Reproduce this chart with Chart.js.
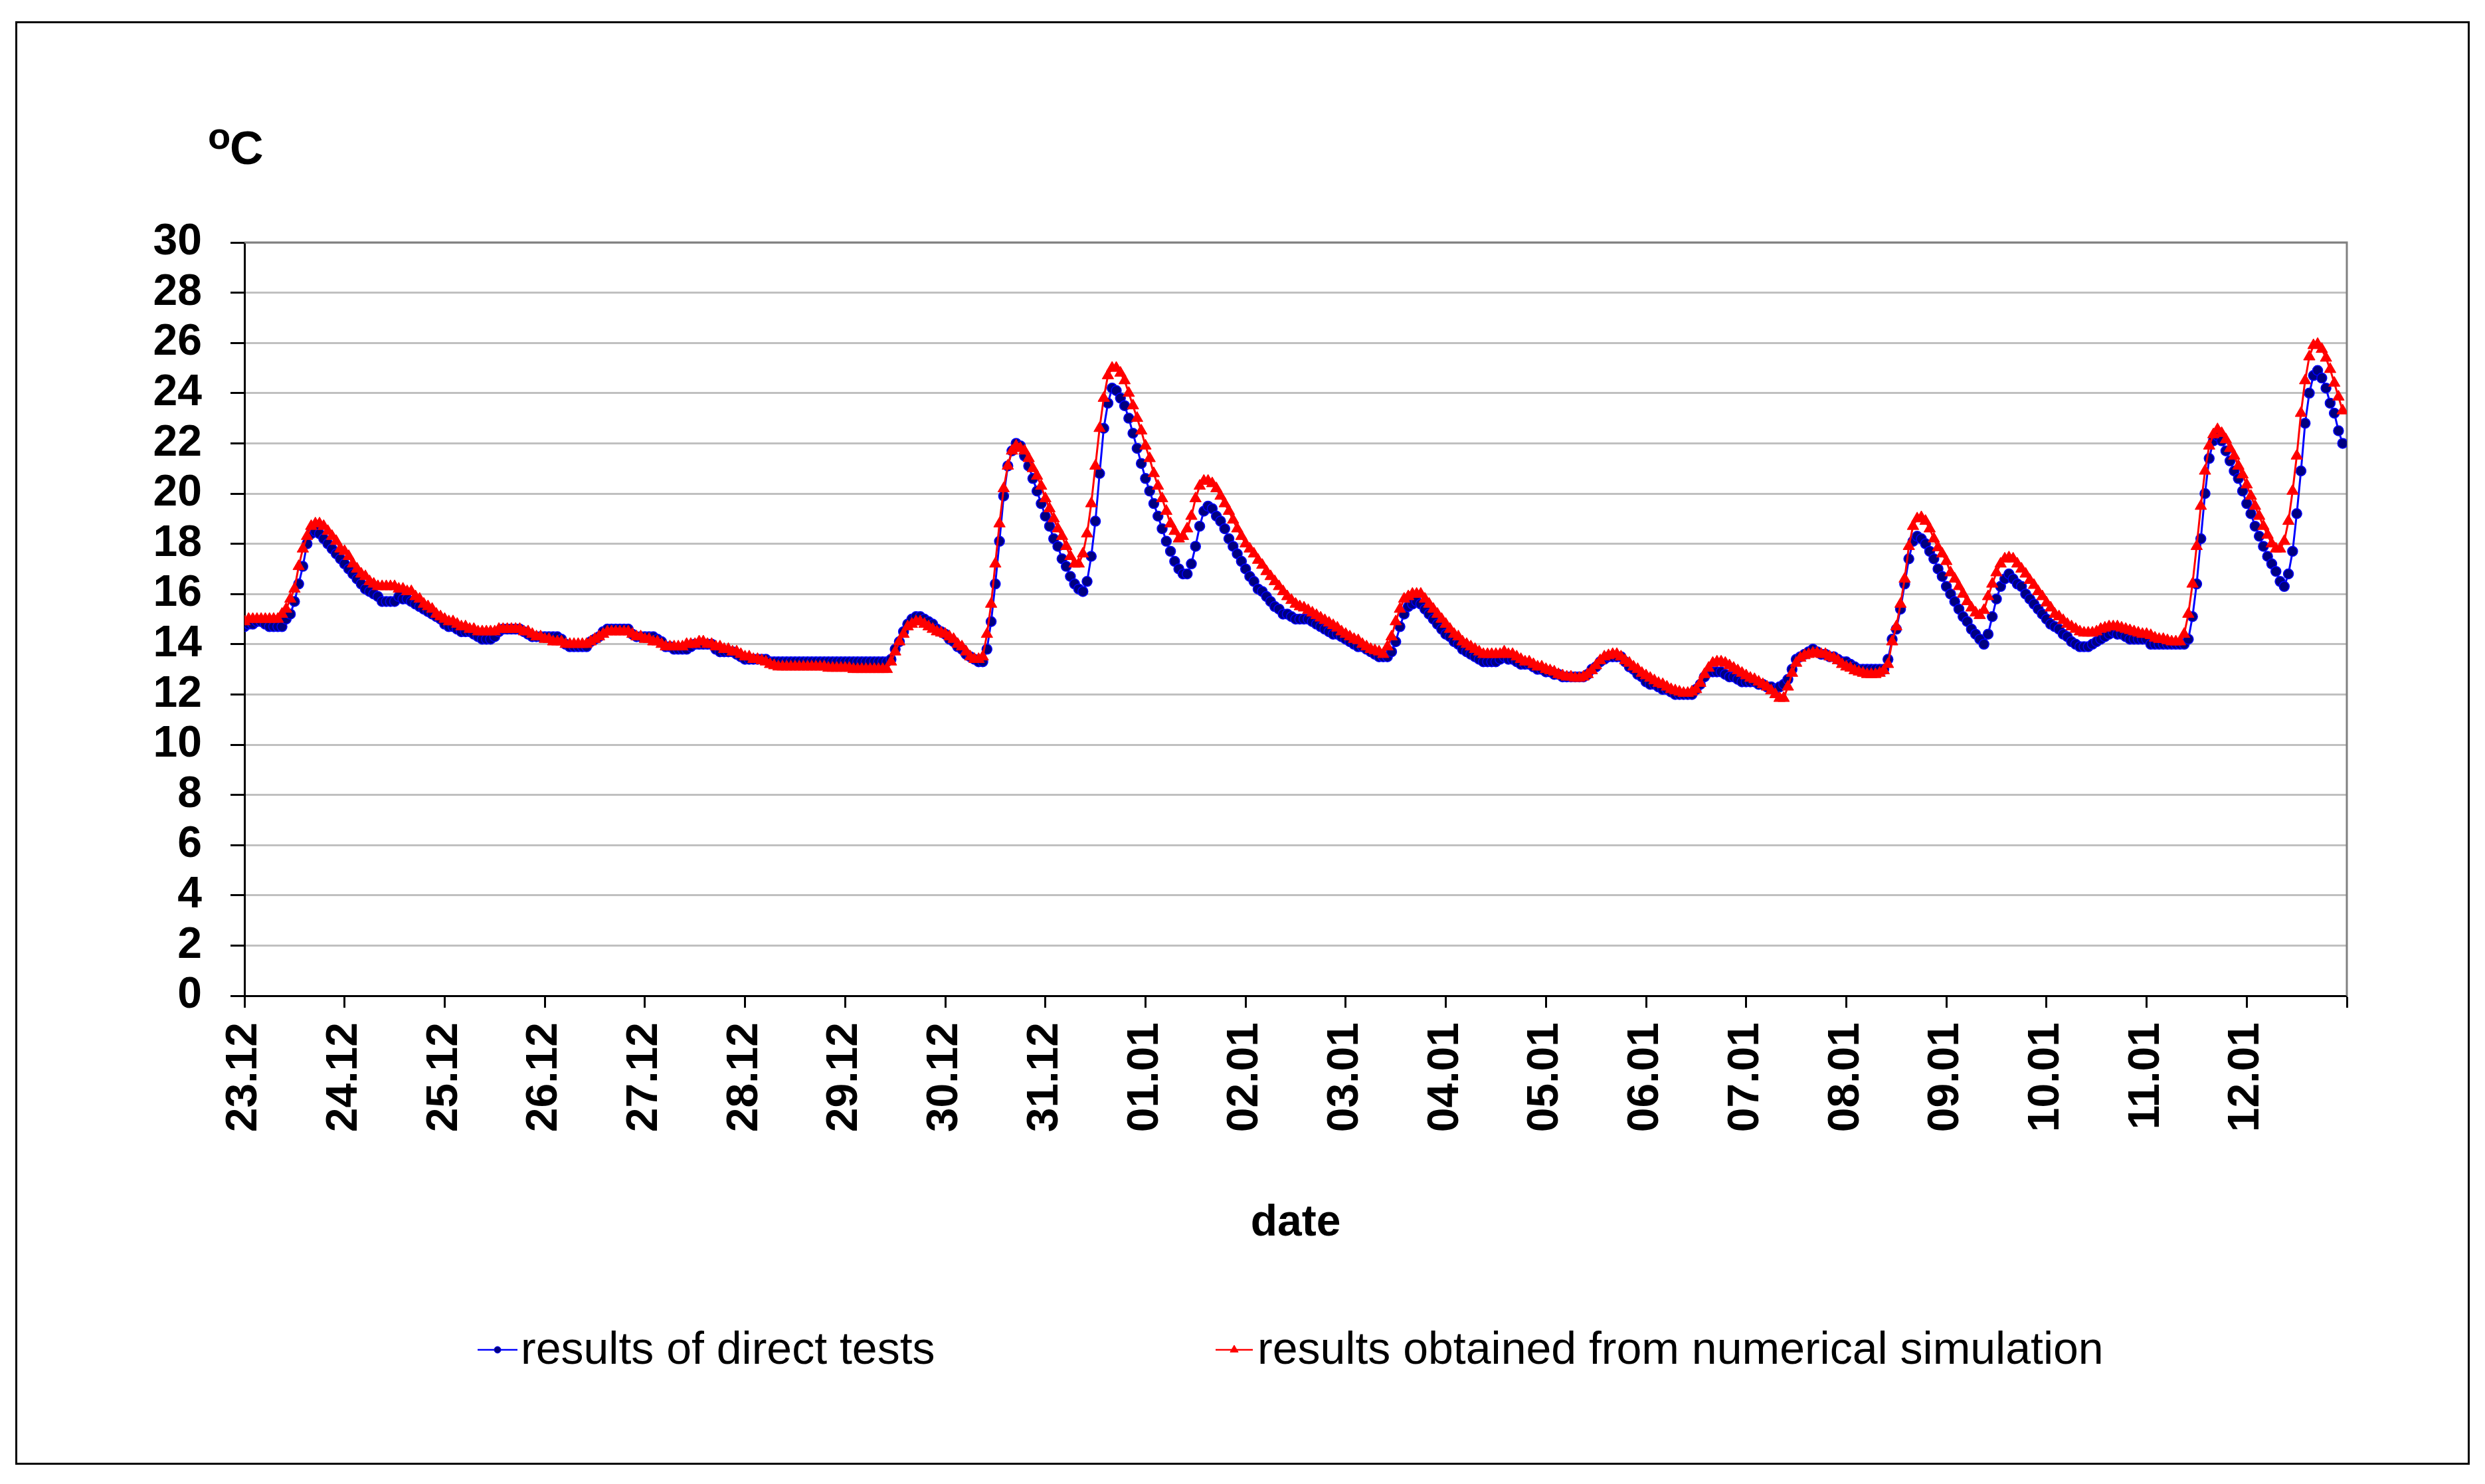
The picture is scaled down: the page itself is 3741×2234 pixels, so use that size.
<!DOCTYPE html>
<html>
<head>
<meta charset="utf-8">
<title>Temperature: direct tests vs numerical simulation</title>
<script src="https://cdn.jsdelivr.net/npm/chart.js@4.4.1/dist/chart.umd.min.js"></script>
<style>
    html, body { margin: 0; padding: 0; background: #fff; }
    canvas { display: block; }
</style>
</head>
<body>
<canvas id="tempChart" width="3741" height="2234"></canvas>
<script>
// Day labels on the x axis (one tick every 24 hourly readings)
const dateLabels = ['23.12', '24.12', '25.12', '26.12', '27.12', '28.12', '29.12', '30.12', '31.12',
    '01.01', '02.01', '03.01', '04.01', '05.01', '06.01', '07.01', '08.01', '09.01', '10.01', '11.01', '12.01'];

const seriesNames = ['results of direct tests', 'results obtained from numerical simulation'];

// Hourly readings, one row per day (°C)
const directTests = [
    14.7, 14.8, 14.8, 14.9, 14.9, 14.8, 14.7, 14.7, 14.7, 14.7, 15.0, 15.2, 15.7, 16.4, 17.1, 18.0, 18.4, 18.5, 18.4, 18.2, 18.0, 17.8, 17.6, 17.4,
    17.2, 17.0, 16.8, 16.6, 16.4, 16.2, 16.1, 16.0, 15.9, 15.7, 15.7, 15.7, 15.7, 15.9, 15.8, 15.8, 15.7, 15.6, 15.5, 15.4, 15.3, 15.2, 15.1, 15.0,
    14.8, 14.7, 14.7, 14.6, 14.5, 14.5, 14.5, 14.4, 14.3, 14.2, 14.2, 14.2, 14.3, 14.5, 14.6, 14.6, 14.6, 14.6, 14.6, 14.5, 14.4, 14.3, 14.3, 14.3,
    14.3, 14.3, 14.3, 14.3, 14.2, 14.0, 13.9, 13.9, 13.9, 13.9, 13.9, 14.1, 14.2, 14.3, 14.5, 14.6, 14.6, 14.6, 14.6, 14.6, 14.6, 14.4, 14.3, 14.3,
    14.3, 14.3, 14.3, 14.2, 14.1, 13.9, 13.9, 13.8, 13.8, 13.8, 13.8, 13.9, 14.0, 14.0, 14.0, 14.0, 14.0, 13.8, 13.7, 13.7, 13.7, 13.7, 13.6, 13.5,
    13.4, 13.4, 13.4, 13.4, 13.4, 13.4, 13.3, 13.3, 13.3, 13.3, 13.3, 13.3, 13.3, 13.3, 13.3, 13.3, 13.3, 13.3, 13.3, 13.3, 13.3, 13.3, 13.3, 13.3,
    13.3, 13.3, 13.3, 13.3, 13.3, 13.3, 13.3, 13.3, 13.3, 13.3, 13.3, 13.4, 13.8, 14.1, 14.5, 14.8, 15.0, 15.1, 15.1, 15.0, 14.9, 14.8, 14.6, 14.5,
    14.4, 14.2, 14.1, 13.9, 13.8, 13.6, 13.5, 13.4, 13.3, 13.3, 13.8, 14.9, 16.4, 18.1, 19.9, 21.1, 21.7, 22.0, 21.9, 21.5, 21.1, 20.6, 20.1, 19.6,
    19.1, 18.7, 18.2, 17.9, 17.4, 17.1, 16.7, 16.4, 16.2, 16.1, 16.5, 17.5, 18.9, 20.8, 22.6, 23.6, 24.2, 24.1, 23.8, 23.5, 23.0, 22.4, 21.8, 21.2,
    20.6, 20.1, 19.6, 19.1, 18.6, 18.1, 17.7, 17.3, 17.0, 16.8, 16.8, 17.2, 17.9, 18.7, 19.3, 19.5, 19.4, 19.1, 18.9, 18.6, 18.2, 17.9, 17.6, 17.3,
    17.0, 16.7, 16.5, 16.2, 16.1, 15.9, 15.7, 15.5, 15.4, 15.2, 15.2, 15.1, 15.0, 15.0, 15.0, 15.0, 14.9, 14.8, 14.7, 14.6, 14.5, 14.4, 14.4, 14.3,
    14.2, 14.1, 14.0, 13.9, 13.9, 13.8, 13.7, 13.6, 13.5, 13.5, 13.5, 13.7, 14.1, 14.7, 15.2, 15.5, 15.6, 15.7, 15.6, 15.4, 15.2, 15.0, 14.8, 14.6,
    14.4, 14.3, 14.1, 14.0, 13.8, 13.7, 13.6, 13.5, 13.4, 13.3, 13.3, 13.3, 13.3, 13.4, 13.5, 13.4, 13.4, 13.3, 13.2, 13.2, 13.2, 13.1, 13.0, 13.0,
    12.9, 12.9, 12.8, 12.8, 12.7, 12.7, 12.7, 12.7, 12.7, 12.7, 12.8, 13.0, 13.1, 13.3, 13.4, 13.5, 13.5, 13.5, 13.5, 13.3, 13.1, 13.0, 12.8, 12.7,
    12.5, 12.4, 12.4, 12.3, 12.2, 12.2, 12.1, 12.0, 12.0, 12.0, 12.0, 12.0, 12.2, 12.4, 12.7, 12.9, 12.9, 12.9, 12.9, 12.8, 12.7, 12.7, 12.6, 12.5,
    12.5, 12.5, 12.5, 12.4, 12.4, 12.3, 12.3, 12.2, 12.3, 12.4, 12.6, 13.0, 13.4, 13.5, 13.6, 13.7, 13.8, 13.7, 13.6, 13.6, 13.5, 13.5, 13.4, 13.3,
    13.3, 13.2, 13.1, 13.0, 13.0, 13.0, 13.0, 13.0, 13.0, 13.0, 13.4, 14.2, 14.6, 15.4, 16.4, 17.4, 18.1, 18.3, 18.2, 18.0, 17.7, 17.4, 17.0, 16.7,
    16.3, 16.0, 15.7, 15.4, 15.1, 14.9, 14.6, 14.4, 14.2, 14.0, 14.4, 15.1, 15.8, 16.3, 16.6, 16.8, 16.6, 16.4, 16.3, 16.0, 15.8, 15.6, 15.4, 15.2,
    15.0, 14.8, 14.7, 14.6, 14.4, 14.3, 14.1, 14.0, 13.9, 13.9, 13.9, 14.0, 14.1, 14.2, 14.3, 14.4, 14.5, 14.4, 14.4, 14.3, 14.2, 14.2, 14.2, 14.2,
    14.2, 14.0, 14.0, 14.0, 14.0, 14.0, 14.0, 14.0, 14.0, 14.0, 14.2, 15.1, 16.4, 18.2, 20.0, 21.4, 22.1, 22.3, 22.1, 21.7, 21.3, 20.9, 20.6, 20.1,
    19.6, 19.2, 18.7, 18.3, 17.9, 17.5, 17.2, 16.9, 16.5, 16.3, 16.8, 17.7, 19.2, 20.9, 22.8, 24.0, 24.7, 24.9, 24.6, 24.2, 23.6, 23.2, 22.5, 22.0
];

const simulation = [
    14.9, 15.0, 15.0, 15.0, 15.0, 15.0, 15.0, 15.0, 15.0, 15.2, 15.4, 15.8, 16.2, 17.1, 17.8, 18.3, 18.7, 18.8, 18.8, 18.7, 18.5, 18.3, 18.1, 17.8,
    17.7, 17.5, 17.2, 17.0, 16.8, 16.7, 16.5, 16.4, 16.3, 16.3, 16.3, 16.3, 16.3, 16.2, 16.2, 16.1, 16.1, 15.9, 15.8, 15.6, 15.5, 15.4, 15.2, 15.1,
    15.0, 14.9, 14.9, 14.8, 14.7, 14.7, 14.6, 14.6, 14.5, 14.5, 14.5, 14.5, 14.5, 14.6, 14.6, 14.6, 14.6, 14.6, 14.6, 14.5, 14.5, 14.4, 14.3, 14.3,
    14.2, 14.2, 14.1, 14.1, 14.1, 14.0, 14.0, 14.0, 14.0, 14.0, 14.0, 14.1, 14.2, 14.3, 14.4, 14.5, 14.5, 14.5, 14.5, 14.5, 14.5, 14.4, 14.3, 14.3,
    14.2, 14.2, 14.1, 14.1, 14.0, 13.9, 13.9, 13.9, 13.9, 13.9, 14.0, 14.0, 14.0, 14.1, 14.1, 14.0, 14.0, 13.9, 13.9, 13.8, 13.8, 13.7, 13.7, 13.6,
    13.5, 13.5, 13.4, 13.4, 13.35, 13.3, 13.2, 13.15, 13.1, 13.1, 13.1, 13.1, 13.1, 13.1, 13.1, 13.1, 13.1, 13.1, 13.1, 13.1, 13.05, 13.05, 13.05, 13.05,
    13.05, 13.05, 13.0, 13.0, 13.0, 13.0, 13.0, 13.0, 13.0, 13.0, 13.0, 13.3, 13.7, 14.1, 14.4, 14.7, 14.8, 14.9, 14.9, 14.8, 14.7, 14.6, 14.5, 14.45,
    14.4, 14.3, 14.2, 14.0, 13.9, 13.7, 13.5, 13.4, 13.4, 13.5, 14.4, 15.6, 17.2, 18.8, 20.2, 21.1, 21.7, 21.9, 21.8, 21.7, 21.4, 21.0, 20.7, 20.3,
    19.8, 19.4, 19.0, 18.6, 18.3, 17.9, 17.5, 17.2, 17.2, 17.6, 18.4, 19.6, 21.1, 22.6, 23.8, 24.7, 25.0, 25.0, 24.8, 24.5, 24.0, 23.5, 23.0, 22.5,
    21.9, 21.4, 20.8, 20.3, 19.8, 19.3, 18.8, 18.5, 18.2, 18.3, 18.6, 19.1, 19.8, 20.3, 20.5, 20.5, 20.4, 20.2, 19.9, 19.6, 19.3, 18.95, 18.6, 18.3,
    18.0, 17.8, 17.6, 17.35, 17.15, 16.9, 16.7, 16.5, 16.3, 16.1, 15.9, 15.75, 15.6, 15.5, 15.45, 15.35, 15.25, 15.15, 15.05, 14.95, 14.85, 14.75, 14.65, 14.5,
    14.4, 14.3, 14.2, 14.15, 14.0, 13.9, 13.8, 13.75, 13.7, 13.6, 13.9, 14.3, 14.9, 15.4, 15.8, 15.9, 16.0, 16.0, 16.0, 15.8, 15.6, 15.4, 15.2, 15.0,
    14.8, 14.6, 14.4, 14.3, 14.1, 14.0, 13.9, 13.8, 13.7, 13.6, 13.6, 13.6, 13.6, 13.6, 13.7, 13.6, 13.6, 13.5, 13.4, 13.3, 13.3, 13.2, 13.1, 13.1,
    13.0, 12.95, 12.9, 12.8, 12.75, 12.7, 12.7, 12.65, 12.65, 12.7, 12.8, 12.95, 13.15, 13.35, 13.5, 13.55, 13.6, 13.6, 13.5, 13.35, 13.25, 13.1, 13.0, 12.85,
    12.75, 12.65, 12.55, 12.45, 12.4, 12.3, 12.2, 12.15, 12.1, 12.05, 12.05, 12.1, 12.2, 12.45, 12.8, 13.05, 13.25, 13.3, 13.3, 13.25, 13.15, 13.05, 12.95, 12.85,
    12.75, 12.65, 12.6, 12.5, 12.4, 12.3, 12.15, 12.0, 11.85, 11.85, 12.3, 12.85, 13.25, 13.45, 13.55, 13.6, 13.65, 13.65, 13.6, 13.6, 13.5, 13.45, 13.35, 13.2,
    13.1, 13.05, 12.95, 12.9, 12.85, 12.8, 12.8, 12.8, 12.85, 12.95, 13.2, 14.1, 14.7, 15.6, 16.6, 17.9, 18.7, 19.0, 19.05, 18.9, 18.6, 18.2, 17.85, 17.6,
    17.3, 16.85, 16.6, 16.3, 16.0, 15.7, 15.45, 15.25, 15.15, 15.35, 15.9, 16.4, 16.85, 17.2, 17.4, 17.45, 17.4, 17.2, 17.0, 16.8, 16.55, 16.35, 16.1, 15.9,
    15.65, 15.45, 15.2, 15.1, 14.95, 14.8, 14.7, 14.6, 14.5, 14.45, 14.45, 14.45, 14.5, 14.6, 14.65, 14.7, 14.7, 14.7, 14.65, 14.6, 14.55, 14.5, 14.45, 14.4,
    14.4, 14.35, 14.25, 14.2, 14.2, 14.15, 14.1, 14.1, 14.1, 14.4, 15.2, 16.4, 17.9, 19.5, 20.9, 21.9, 22.35, 22.55, 22.4, 22.15, 21.8, 21.5, 21.1, 20.75,
    20.35, 19.9, 19.5, 19.1, 18.7, 18.35, 18.0, 17.8, 17.8, 18.1, 18.9, 20.1, 21.5, 23.2, 24.5, 25.45, 25.9, 25.95, 25.75, 25.4, 24.95, 24.4, 23.85, 23.3
];

const colors = {
    blue: '#0000ff',
    navy: '#000080',
    red: '#ff0000',
    grid: '#c0c0c0',
    frame: '#808080'
};
const fontFamily = "'Liberation Sans', Arial, sans-serif";

Chart.defaults.font.family = fontFamily;
Chart.defaults.color = '#000';

// x = hour since 23.12 00:00
const toPoints = values => values.map((v, i) => ({ x: i, y: v }));

// small marker drawer for the legend
function drawMarker(ctx, style, x, y, r) {
    ctx.beginPath();
    if (style === 'triangle') {
        ctx.moveTo(x, y - r);
        ctx.lineTo(x + r * 0.866, y + r * 0.5);
        ctx.lineTo(x - r * 0.866, y + r * 0.5);
        ctx.closePath();
    } else {
        ctx.arc(x, y, r, 0, Math.PI * 2);
    }
    ctx.fill();
    ctx.stroke();
}

// outer frame, grey plot border, unit label and the legend
const decorations = {
    id: 'decorations',
    beforeDraw(chart) {
        const ctx = chart.ctx;
        ctx.save();
        ctx.fillStyle = '#fff';
        ctx.fillRect(0, 0, chart.width, chart.height);
        ctx.strokeStyle = '#000';
        ctx.lineWidth = 3;
        ctx.strokeRect(24.5, 33.5, 3692, 2170);
        ctx.restore();
    },
    beforeDatasetsDraw(chart) {
        const { ctx, chartArea: a } = chart;
        ctx.save();
        ctx.strokeStyle = colors.frame;
        ctx.lineWidth = 3;
        ctx.beginPath();
        ctx.moveTo(a.left, a.top);
        ctx.lineTo(a.right, a.top);
        ctx.lineTo(a.right, a.bottom);
        ctx.stroke();
        ctx.restore();
    },
    afterDraw(chart) {
        const ctx = chart.ctx;
        ctx.save();
        ctx.fillStyle = '#000';
        ctx.textBaseline = 'alphabetic';
        ctx.font = 'bold 56px ' + fontFamily;
        ctx.fillText('o', 313, 224);
        ctx.font = 'bold 70px ' + fontFamily;
        ctx.fillText('C', 346, 247);

        // legend: short line with marker, then the name
        const legendY = 2032;
        const items = [
            { lineFrom: 719, lineTo: 779, textX: 784 },
            { lineFrom: 1830, lineTo: 1886, textX: 1893 }
        ];
        chart.data.datasets.forEach((ds, i) => {
            const it = items[i];
            ctx.strokeStyle = ds.borderColor;
            ctx.lineWidth = 2.5;
            ctx.beginPath();
            ctx.moveTo(it.lineFrom, legendY);
            ctx.lineTo(it.lineTo, legendY);
            ctx.stroke();
            ctx.fillStyle = ds.pointBackgroundColor;
            ctx.strokeStyle = ds.pointBorderColor;
            ctx.lineWidth = 1;
            drawMarker(ctx, ds.pointStyle, (it.lineFrom + it.lineTo) / 2, legendY, ds.pointStyle === 'triangle' ? 7 : 5);
            ctx.fillStyle = '#000';
            ctx.font = '68px ' + fontFamily;
            ctx.textBaseline = 'middle';
            ctx.fillText(ds.label, it.textX, legendY + 2);
        });
        ctx.restore();
    }
};

const ctxTemp = document.getElementById('tempChart').getContext('2d');

const tempChart = new Chart(ctxTemp, {
    type: 'line',
    data: {
        datasets: [{
            label: seriesNames[0],
            data: toPoints(directTests),
            borderColor: colors.blue,
            borderWidth: 3,
            pointStyle: 'circle',
            pointRadius: 7.5,
            pointBackgroundColor: colors.navy,
            pointBorderColor: colors.blue,
            pointBorderWidth: 1.5,
            tension: 0,
            order: 2
        }, {
            label: seriesNames[1],
            data: toPoints(simulation),
            borderColor: colors.red,
            borderWidth: 3,
            pointStyle: 'triangle',
            pointRadius: 10,
            pointBackgroundColor: colors.red,
            pointBorderColor: colors.red,
            pointBorderWidth: 1,
            tension: 0,
            order: 1   // drawn on top of the measured series
        }]
    },
    options: {
        responsive: false,
        animation: false,
        devicePixelRatio: 1,
        layout: {
            padding: { left: 20, top: 365, right: 208, bottom: 353 }
        },
        plugins: {
            legend: { display: false },
            tooltip: { enabled: false }
        },
        scales: {
            x: {
                type: 'linear',
                min: 0,
                max: dateLabels.length * 24,
                afterFit: scale => { scale.height = 382; },
                border: { color: '#000', width: 3 },
                grid: {
                    drawOnChartArea: false,
                    drawTicks: true,
                    tickLength: 18,
                    tickColor: '#000',
                    tickWidth: 3
                },
                ticks: {
                    stepSize: 24,
                    autoSkip: false,
                    maxRotation: 90,
                    minRotation: 90,
                    padding: 22,
                    font: { size: 66, weight: 'bold' },
                    callback: value => dateLabels[value / 24] ?? ''
                },
                title: {
                    display: true,
                    text: 'date',
                    font: { size: 66, weight: 'bold', lineHeight: 1.2 },
                    padding: { top: 0, bottom: 0 }
                }
            },
            y: {
                min: 0,
                max: 30,
                afterFit: scale => { scale.width = 348; },
                border: { color: '#000', width: 3 },
                grid: {
                    color: ctx => ctx.tick && ctx.tick.value === 0 ? '#000' : colors.grid,
                    lineWidth: 3,
                    tickLength: 21,
                    tickColor: '#000',
                    tickWidth: 3
                },
                ticks: {
                    stepSize: 2,
                    autoSkip: false,
                    padding: 43,
                    font: { size: 66, weight: 'bold' }
                }
            }
        }
    },
    plugins: [decorations]
});
</script>
</body>
</html>
